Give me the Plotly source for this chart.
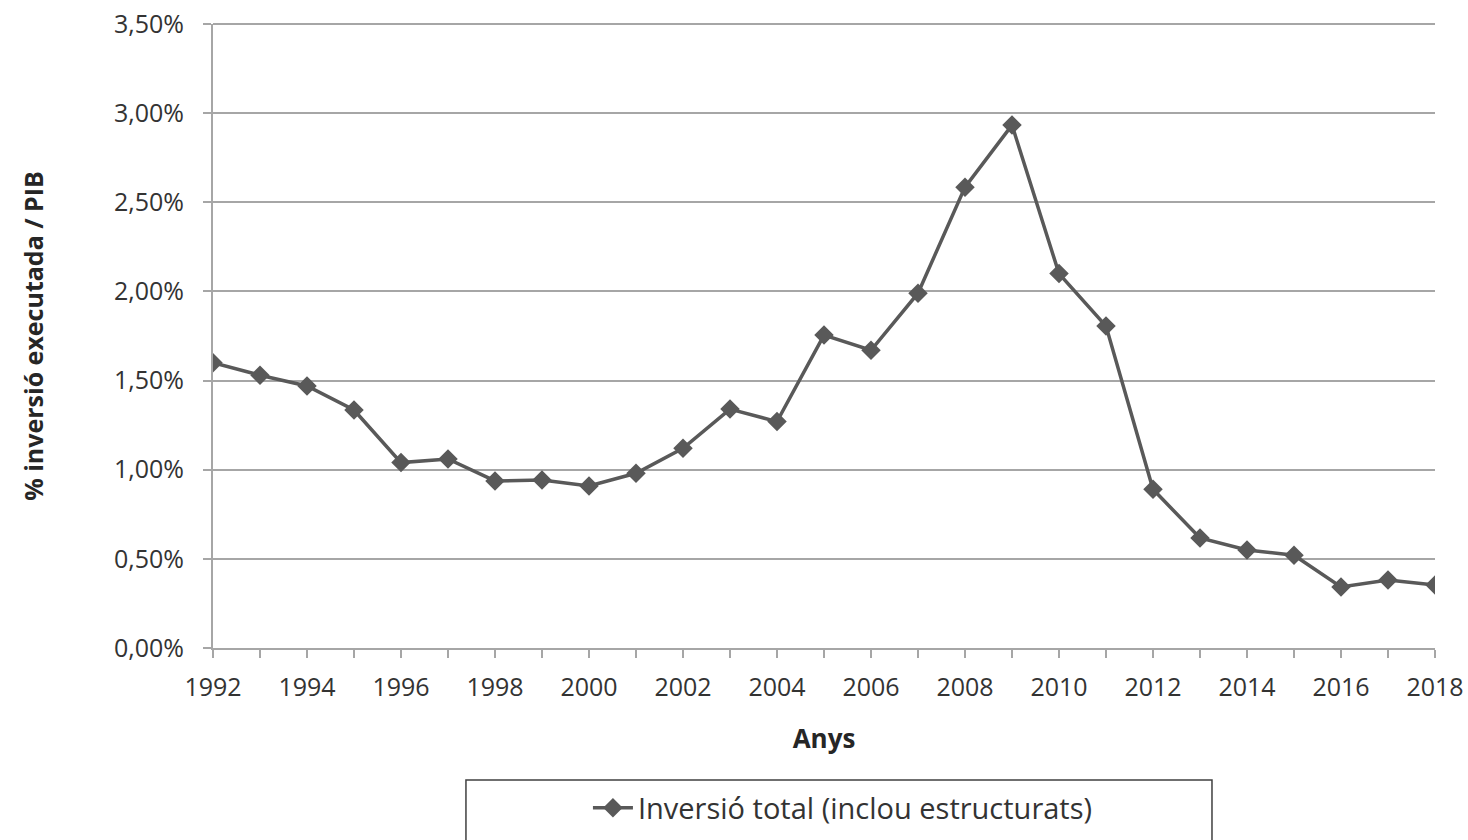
import plotly.graph_objects as go

years = list(range(1992, 2019))
inversio_total = [1.60, 1.53, 1.47, 1.335, 1.04, 1.06, 0.937, 0.942, 0.909, 0.98,
                  1.12, 1.34, 1.27, 1.755, 1.67, 1.99, 2.585, 2.933, 2.10, 1.806,
                  0.89, 0.617, 0.55, 0.52, 0.342, 0.381, 0.353]
values = [v / 100 for v in inversio_total]
y_ticks = [0.0, 0.005, 0.01, 0.015, 0.02, 0.025, 0.03, 0.035]
series_name = "Inversió total (inclou estructurats)"

font_family = "Open Sans"
text_color = "#333333"
grid_color = "#a6a6a6"

fig = go.Figure()
fig.add_trace(go.Scatter(
    x=years, y=values, name=series_name, mode="lines+markers",
    line=dict(color="#595959", width=3.5),
    marker=dict(symbol="diamond", size=15, color="#595959"),
    showlegend=True,
))

# top gridline (plotly omits gridlines at the range edge)
fig.add_shape(type="line", xref="paper", yref="paper", x0=0, x1=1, y0=1, y1=1,
              line=dict(color=grid_color, width=2))

# legend frame
fig.add_shape(type="rect", xref="paper", yref="paper",
              x0=0.207, x1=0.8175, y0=-0.33, y1=-0.2115,
              line=dict(color="#404040", width=1.5), fillcolor="rgba(0,0,0,0)")

fig.update_layout(
    width=1468, height=840,
    margin=dict(l=213, r=33, t=24, b=192),
    plot_bgcolor="white", paper_bgcolor="white",
    separators=",.",
    font=dict(family=font_family, size=24, color=text_color),
    legend=dict(orientation="h", x=0.5155, xanchor="center",
                yref="container", y=0.0381, yanchor="middle",
                font=dict(size=29, color=text_color), bgcolor="rgba(0,0,0,0)",
                itemwidth=40),
    xaxis=dict(
        range=[1992, 2018], tickmode="linear", tick0=1992, dtick=2,
        showgrid=False, showline=True, linecolor=grid_color, linewidth=2,
        ticks="outside", ticklen=8, tickcolor=grid_color, tickwidth=2,
        minor=dict(dtick=1, ticks="outside", ticklen=8, tickcolor=grid_color, tickwidth=2),
        tickfont=dict(size=25, color=text_color), ticklabelstandoff=8,
        title=dict(text="<b>Anys</b>", font=dict(size=26, color="#262626"), standoff=28),
        zeroline=False, automargin=False,
    ),
    yaxis=dict(
        range=[0, 0.035], tickmode="array", tickvals=y_ticks, tickformat=".2%",
        showgrid=True, gridcolor=grid_color, gridwidth=2,
        showline=True, linecolor=grid_color, linewidth=2,
        ticks="outside", ticklen=8, tickcolor=grid_color, tickwidth=2,
        tickfont=dict(size=25, color=text_color), ticklabelstandoff=14,
        title=dict(text="<b>% inversió executada / PIB</b>", font=dict(size=25, color="#262626"), standoff=63),
        zeroline=False, automargin=False,
    ),
)

fig.write_html("out.html", config={"displayModeBar": False},
               post_script="document.body.style.margin='0';document.body.style.overflow='hidden';")
